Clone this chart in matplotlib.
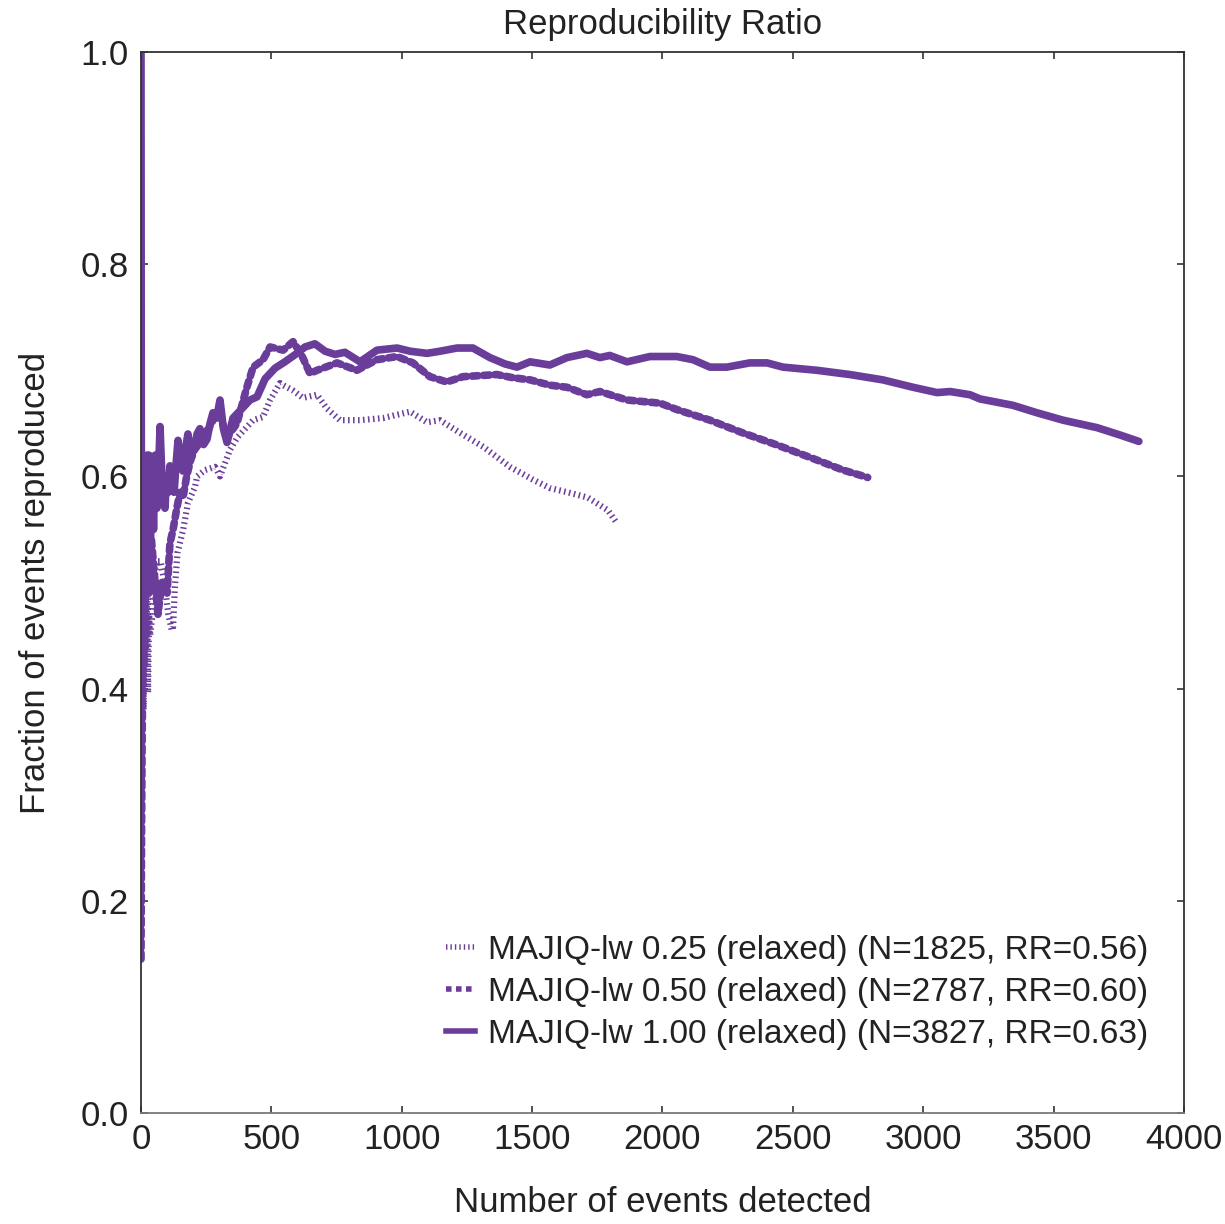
import matplotlib
matplotlib.use("Agg")
import matplotlib.pyplot as plt
from matplotlib.lines import Line2D

plt.rcParams['font.family'] = ['Liberation Sans', 'DejaVu Sans']

COLOR = "#6a3d9a"

title = "Reproducibility Ratio"
xlabel = "Number of events detected"
ylabel = "Fraction of events reproduced"
labels = [
    "MAJIQ-lw 0.25 (relaxed) (N=1825, RR=0.56)",
    "MAJIQ-lw 0.50 (relaxed) (N=2787, RR=0.60)",
    "MAJIQ-lw 1.00 (relaxed) (N=3827, RR=0.63)",
]
xticks = [0, 500, 1000, 1500, 2000, 2500, 3000, 3500, 4000]
yticks = [0.0, 0.2, 0.4, 0.6, 0.8, 1.0]

# MAJIQ-lw 0.25
x025 = [0, 2, 3, 4, 6, 8, 10, 13, 15, 18, 20, 24, 27, 31, 35, 42, 50, 60, 75,
        90, 105, 118, 123, 130, 140, 161, 180, 207, 215, 245, 284, 303, 341,
        370, 400, 430, 468, 495, 533, 545, 583, 621, 675, 713, 763, 840, 928,
        1032, 1097, 1147, 1224, 1312, 1415, 1503, 1568, 1637, 1714, 1791, 1825]
y025 = [0.33, 0.45, 0.35, 0.50, 0.40, 0.52, 0.38, 0.50, 0.42, 0.51, 0.44,
        0.49, 0.396, 0.47, 0.45, 0.465, 0.50, 0.52, 0.52, 0.50, 0.47, 0.455,
        0.458, 0.496, 0.528, 0.549, 0.575, 0.59, 0.60, 0.606, 0.609, 0.60,
        0.625, 0.637, 0.645, 0.653, 0.656, 0.672, 0.688, 0.686, 0.681, 0.674,
        0.677, 0.664, 0.653, 0.653, 0.655, 0.661, 0.651, 0.653, 0.641, 0.628,
        0.609, 0.597, 0.589, 0.585, 0.58, 0.568, 0.556]

# MAJIQ-lw 0.50
x050 = [0, 2, 4, 7, 12, 20, 30, 40, 54, 65, 80, 100, 111, 123, 138, 150, 161,
        175, 190, 205, 220, 240, 260, 280, 300, 330, 368, 406, 430, 468, 495,
        545, 583, 615, 648, 675, 752, 828, 905, 982, 1043, 1108, 1173, 1235,
        1365, 1427, 1492, 1568, 1634, 1710, 1760, 1864, 1991, 2055, 2182,
        2308, 2435, 2565, 2692, 2787]
y050 = [0.145, 0.26, 0.34, 0.43, 0.50, 0.53, 0.49, 0.54, 0.50, 0.47, 0.50,
        0.49, 0.537, 0.55, 0.571, 0.585, 0.58, 0.60, 0.615, 0.625, 0.63, 0.64,
        0.645, 0.655, 0.66, 0.637, 0.65, 0.684, 0.703, 0.71, 0.722, 0.719,
        0.727, 0.715, 0.697, 0.70, 0.707, 0.70, 0.71, 0.713, 0.707, 0.694,
        0.689, 0.694, 0.696, 0.693, 0.691, 0.686, 0.684, 0.677, 0.68, 0.672,
        0.669, 0.663, 0.653, 0.641, 0.63, 0.618, 0.606, 0.599]

# MAJIQ-lw 1.00
x100 = [0, 1, 2, 3, 4, 6, 8, 11, 14, 17, 19, 23, 27, 31, 36, 42, 48, 54, 61,
        67, 73, 80, 86, 92, 98, 104, 111, 119, 127, 134, 142, 150, 161, 170,
        180, 190, 203, 215, 226, 240, 253, 265, 276, 290, 303, 316, 330, 353,
        380, 418, 445, 476, 514, 552, 598, 629, 667, 706, 744, 782, 840, 905,
        982, 1032, 1097, 1147, 1212, 1273, 1338, 1396, 1442, 1492, 1568, 1634,
        1710, 1760, 1798, 1864, 1952, 2055, 2117, 2182, 2247, 2335, 2401, 2462,
        2593, 2719, 2845, 2961, 3053, 3103, 3179, 3218, 3344, 3436, 3536, 3666,
        3755, 3827]
y100 = [1.0, 0.67, 0.50, 0.60, 0.48, 0.58, 0.50, 0.60, 0.52, 0.61, 0.53,
        0.62, 0.55, 0.62, 0.54, 0.60, 0.55, 0.62, 0.57, 0.60, 0.647, 0.60,
        0.58, 0.57, 0.60, 0.585, 0.61, 0.595, 0.585, 0.61, 0.634, 0.615,
        0.605, 0.625, 0.64, 0.62, 0.625, 0.64, 0.645, 0.63, 0.635, 0.65, 0.66,
        0.655, 0.672, 0.645, 0.632, 0.655, 0.662, 0.672, 0.675, 0.692, 0.702,
        0.708, 0.716, 0.722, 0.725, 0.718, 0.715, 0.717, 0.708, 0.719, 0.721,
        0.718, 0.716, 0.718, 0.721, 0.721, 0.712, 0.706, 0.703, 0.708, 0.705,
        0.712, 0.716, 0.712, 0.714, 0.708, 0.713, 0.713, 0.71, 0.703, 0.703,
        0.707, 0.707, 0.703, 0.70, 0.696, 0.691, 0.684, 0.679, 0.68, 0.677,
        0.673, 0.667, 0.66, 0.653, 0.646, 0.639, 0.633]

fig = plt.figure(figsize=(12.25, 12.24), dpi=100)
ax = fig.add_axes([0.1151, 0.0907, 0.8514, 0.8668])

ax.plot(x025, y025, color=COLOR, lw=4.5, linestyle=(0, (0.25, 0.55)),
        solid_capstyle='butt', dash_capstyle='butt')
ax.plot(x050, y050, color=COLOR, lw=5.5, linestyle=(0, (0.8, 0.7)),
        dash_capstyle='round')
ax.plot(x100, y100, color=COLOR, lw=5.5, linestyle='-',
        solid_capstyle='round', solid_joinstyle='round')

ax.set_xlim(0, 4000)
ax.set_ylim(0, 1.0)
ax.set_xticks(xticks)
ax.set_yticks(yticks)
ax.set_xticklabels([str(t) for t in xticks])
ax.set_yticklabels([f"{t:.1f}" for t in yticks])
ax.tick_params(direction='in', length=5, width=1.2, labelsize=25,
               top=True, right=True, colors='#333333', labelcolor='#222222')
ax.tick_params(axis='x', pad=7)
ax.tick_params(axis='y', pad=9)

for side in ['left', 'top', 'right']:
    ax.spines[side].set_color('#333333')
    ax.spines[side].set_linewidth(1.3)
ax.spines['bottom'].set_color('#7a7a7a')
ax.spines['bottom'].set_linewidth(1.3)

ax.set_title(title, fontsize=25, color='#222222', pad=13)
ax.set_xlabel(xlabel, fontsize=25, color='#222222', labelpad=22)
ax.set_ylabel(ylabel, fontsize=25, color='#222222', labelpad=20)

handles = [
    Line2D([], [], color=COLOR, lw=4, linestyle=(0, (0.25, 0.55))),
    Line2D([], [], color=COLOR, lw=4, linestyle=(0, (1.0, 0.8))),
    Line2D([], [], color=COLOR, lw=4, linestyle='-'),
]
ax.legend(handles, labels, loc='lower left', bbox_to_anchor=(0.28, 0.047),
          frameon=False, fontsize=24, handlelength=0.85, handletextpad=0.4,
          labelspacing=0.33, borderaxespad=0, labelcolor='#222222')

fig.savefig("out.png", dpi=100)
